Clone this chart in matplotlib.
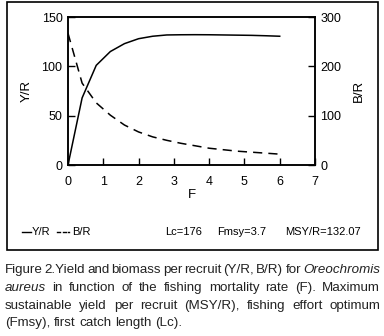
import matplotlib
matplotlib.use("Agg")
import matplotlib.pyplot as plt
from matplotlib.patches import Rectangle

F = [0.0, 0.4, 0.8, 1.2, 1.6, 2.0, 2.4, 2.8, 3.2, 3.6, 4.0, 4.4, 4.8, 5.2, 5.6, 6.0]
YR = [0, 68, 101, 115, 123, 128, 130.5, 131.8, 132.0, 132.07, 132.0, 131.8, 131.6, 131.4, 131.0, 130.5]
BR = [267, 166, 126, 101, 81, 67, 57, 50, 44, 39, 34, 31, 28, 26, 24, 22]
x_ticks = [0, 1, 2, 3, 4, 5, 6, 7]
yl_ticks = [0, 50, 100, 150]
yr_ticks = [0, 100, 200, 300]

W, H = 384, 336
fig = plt.figure(figsize=(W / 100, H / 100), dpi=100)
plt.rcParams['font.family'] = ['Liberation Sans', 'DejaVu Sans']

def fx(px):
    return px / W

def fy(py):
    return 1 - py / H

ax = fig.add_axes([fx(68), fy(165), fx(315) - fx(68), fy(17) - fy(165)])
ax2 = ax.twinx()
ax.plot(F, YR, color='black', lw=1.1)
ax2.plot(F, BR, color='black', lw=1.1, dashes=(6, 4))
ax.set_xlim(0, 7)
ax.set_ylim(0, 150)
ax2.set_ylim(0, 300)
ax.set_xticks(x_ticks)
ax.set_yticks(yl_ticks)
ax2.set_yticks(yr_ticks)
for a in (ax, ax2):
    a.tick_params(direction='in', length=5, width=1, labelsize=9, pad=4)
    for s in a.spines.values():
        s.set_linewidth(1.1)
ax.tick_params(axis='x', pad=8)
ax.set_ylabel('Y/R', fontsize=9.5, labelpad=6)
ax2.set_ylabel('B/R', fontsize=9.5, labelpad=8)
ax.set_xlabel('F', fontsize=9.5, labelpad=1)

# outer border
fig.patches.append(Rectangle((fx(7), fy(250)), fx(378) - fx(7), fy(2) - fy(250),
                             transform=fig.transFigure, fill=False, lw=1.2, color='black'))

# legend / annotations
fs_l = 8
fig.add_artist(plt.Line2D([fx(22), fx(31)], [fy(232), fy(232)], color='black', lw=1))
fig.text(fx(32), fy(232), 'Y/R', fontsize=fs_l, va='center')
fig.add_artist(plt.Line2D([fx(57), fx(60)], [fy(232), fy(232)], color='black', lw=1))
fig.add_artist(plt.Line2D([fx(63), fx(66)], [fy(232), fy(232)], color='black', lw=1))
fig.add_artist(plt.Line2D([fx(68), fx(69)], [fy(232), fy(232)], color='black', lw=1))
fig.text(fx(72), fy(232), 'B/R', fontsize=fs_l, va='center')
fig.text(fx(165), fy(232), 'Lc=176', fontsize=fs_l, va='center')
fig.text(fx(217), fy(232), 'Fmsy=3.7', fontsize=fs_l, va='center')
fig.text(fx(285), fy(232), 'MSY/R=132.07', fontsize=fs_l, va='center')

# caption (justified)
cap_lines = [
    [('Figure', 0), ('2.Yield', 0), ('and', 0), ('biomass', 0), ('per', 0), ('recruit', 0),
     ('(Y/R,', 0), ('B/R)', 0), ('for', 0), ('Oreochromis', 1)],
    [('aureus', 1), ('in', 0), ('function', 0), ('of', 0), ('the', 0), ('fishing', 0),
     ('mortality', 0), ('rate', 0), ('(F).', 0), ('Maximum', 0)],
    [('sustainable', 0), ('yield', 0), ('per', 0), ('recruit', 0), ('(MSY/R),', 0),
     ('fishing', 0), ('effort', 0), ('optimum', 0)],
    [('(Fmsy),', 0), ('first', 0), ('catch', 0), ('length', 0), ('(Lc).', 0)],
]
cap_y = [270, 288, 306, 323]
x0, x1 = 5, 380
fam = ['Liberation Sans Narrow', 'Liberation Sans', 'DejaVu Sans']
fs = 9.6
fig.canvas.draw()
r = fig.canvas.get_renderer()
ta = fig.text(0, 0, 'a a', fontsize=fs, family=fam)
tb = fig.text(0, 0, 'aa', fontsize=fs, family=fam)
space_w = ta.get_window_extent(r).width - tb.get_window_extent(r).width
ta.remove()
tb.remove()
for li, (words, yy) in enumerate(zip(cap_lines, cap_y)):
    texts = []
    for w, it in words:
        t = fig.text(0, fy(yy), w, fontsize=fs, family=fam,
                     style='italic' if it else 'normal', va='center', ha='left', color='#222222')
        texts.append(t)
    widths = [t.get_window_extent(r).width for t in texts]
    if li < len(cap_lines) - 1:
        gap = (x1 - x0 - sum(widths)) / (len(words) - 1)
    else:
        gap = space_w
    cx = x0
    for t, w in zip(texts, widths):
        t.set_x(fx(cx))
        cx += w + gap

fig.savefig('out.png', dpi=100)
